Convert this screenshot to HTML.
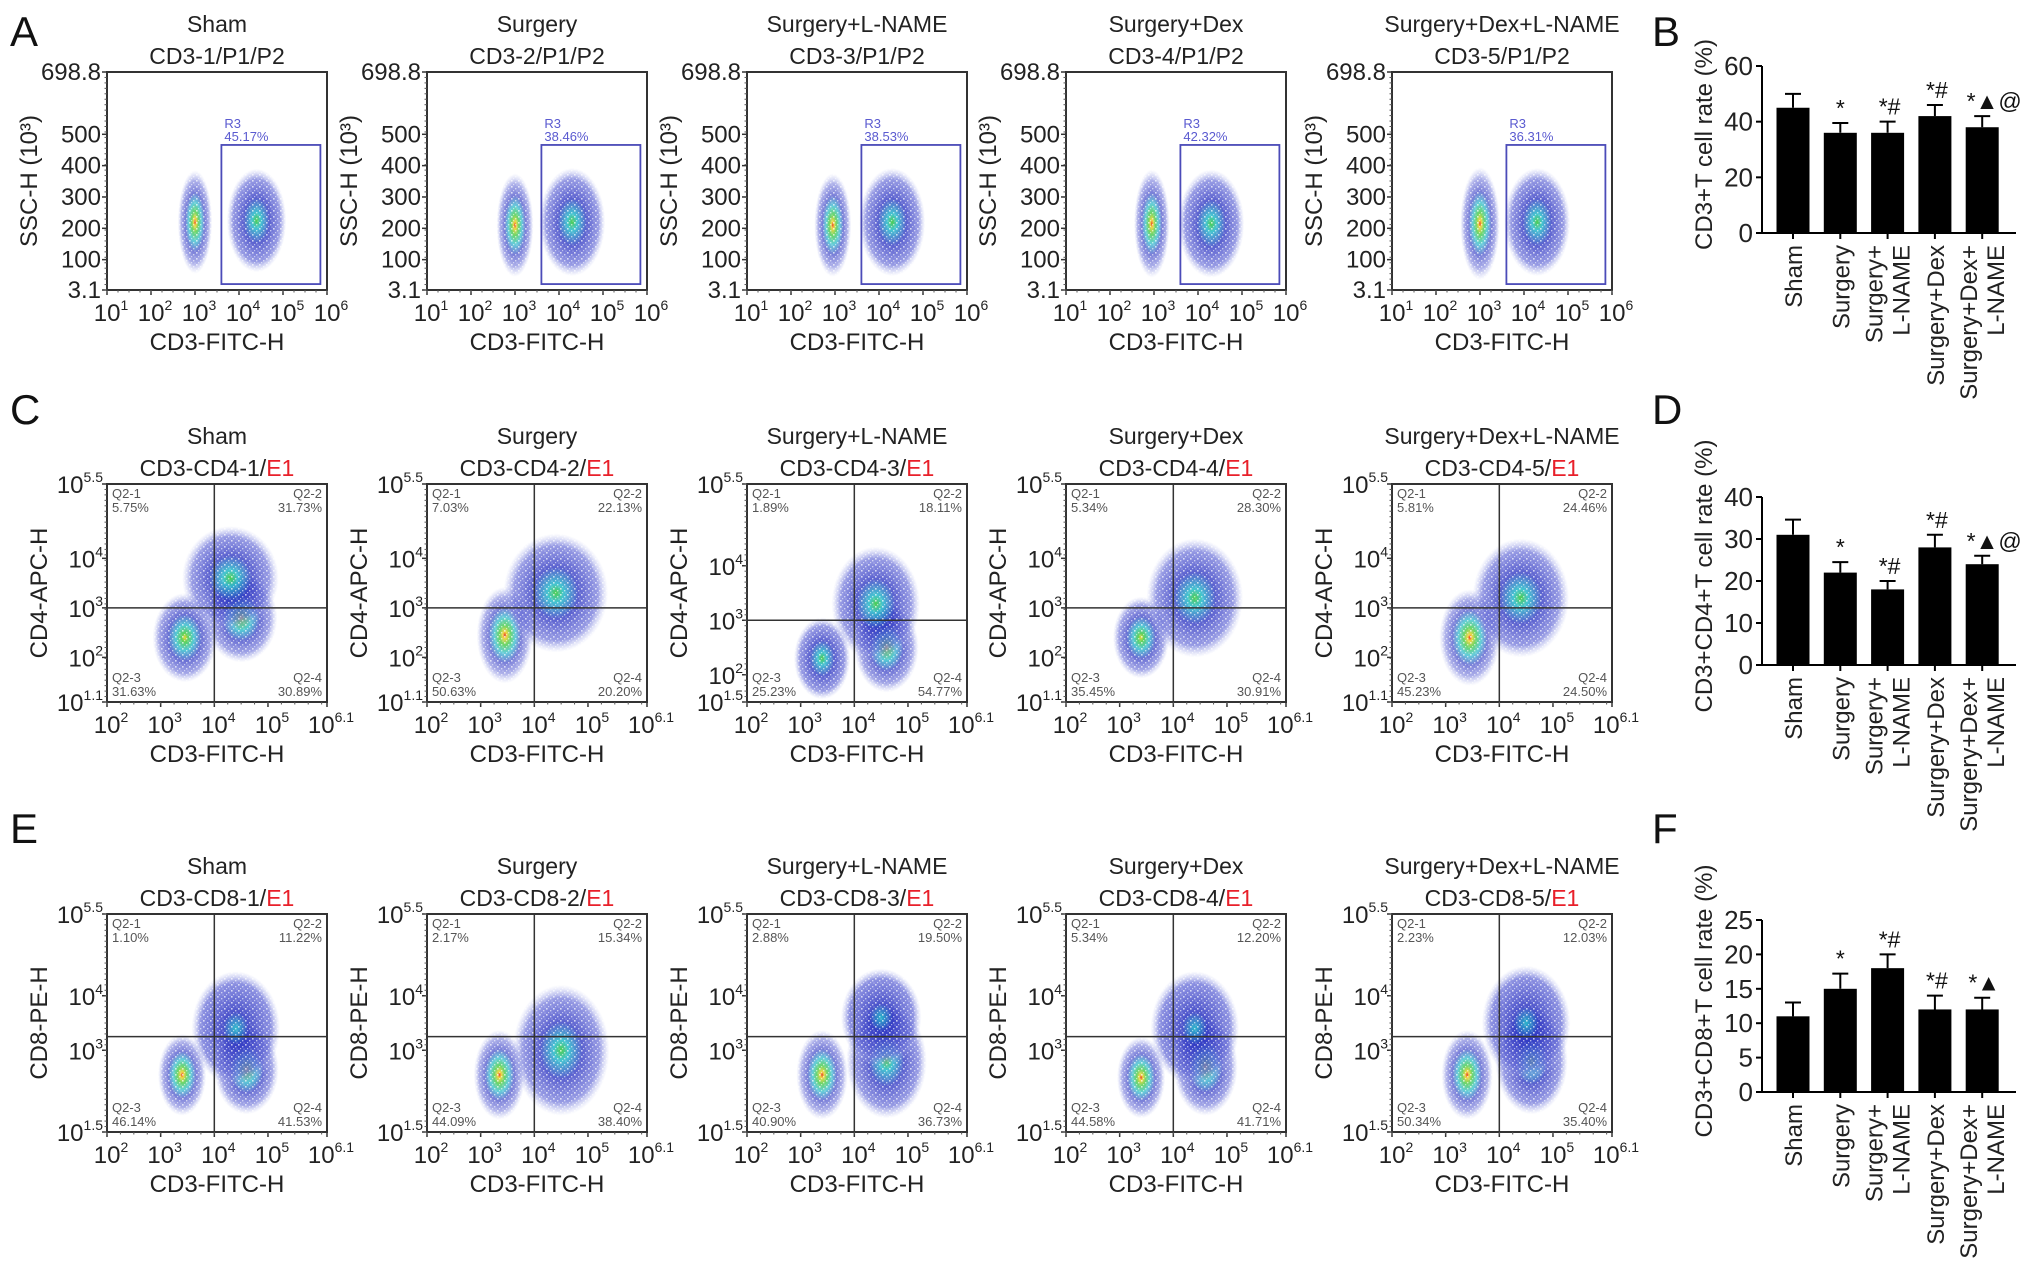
<!DOCTYPE html>
<html><head><meta charset="utf-8">
<style>
html,body{margin:0;padding:0;background:#fff;}
svg{display:block;font-family:"Liberation Sans",Arial,sans-serif;}
</style></head>
<body>
<svg id="fig" width="2032" height="1274" viewBox="0 0 2032 1274" xmlns="http://www.w3.org/2000/svg">
<defs id="defs">
<pattern id="speck" width="7" height="6" patternUnits="userSpaceOnUse">
<rect x="0" y="0" width="1.6" height="1.6" fill="#fff" opacity="0.7"/>
<rect x="4" y="2" width="1.4" height="1.4" fill="#fff" opacity="0.6"/>
<rect x="2" y="4" width="1.2" height="1.2" fill="#fff" opacity="0.55"/>
<rect x="5.5" y="4.6" width="1" height="1" fill="#fff" opacity="0.5"/>
</pattern>
</defs>
</svg>
<script>
// ---------- data ----------
const groupNames = ["Sham","Surgery","Surgery+L-NAME","Surgery+Dex","Surgery+Dex+L-NAME"];
const r3Percent = ["45.17%","38.46%","38.53%","42.32%","36.31%"];
const cd4Q1 = ["5.75%","7.03%","1.89%","5.34%","5.81%"];
const cd4Q2 = ["31.73%","22.13%","18.11%","28.30%","24.46%"];
const cd4Q3 = ["31.63%","50.63%","25.23%","35.45%","45.23%"];
const cd4Q4 = ["30.89%","20.20%","54.77%","30.91%","24.50%"];
const cd4YMin = [1.1,1.1,1.5,1.1,1.1];
const cd8Q1 = ["1.10%","2.17%","2.88%","5.34%","2.23%"];
const cd8Q2 = ["11.22%","15.34%","19.50%","12.20%","12.03%"];
const cd8Q3 = ["46.14%","44.09%","40.90%","44.58%","50.34%"];
const cd8Q4 = ["41.53%","38.40%","36.73%","41.71%","35.40%"];
// cluster data per plot: [x(log), y, sx, sy, heat]
const clustersA = [
 [[3.0,220,0.26,110,0.95],[4.4,225,0.45,110,0.6]],
 [[3.0,210,0.28,110,1.0],[4.3,220,0.5,115,0.5]],
 [[2.95,210,0.28,110,1.0],[4.3,220,0.5,115,0.55]],
 [[2.95,215,0.27,115,0.95],[4.3,215,0.5,115,0.55]],
 [[3.0,215,0.3,120,0.9],[4.3,220,0.5,115,0.5]]
];
const clustersC = [
 [[3.45,2.4,0.4,0.6,0.7],[4.5,2.8,0.45,0.6,0.65],[4.3,3.6,0.6,0.7,0.4]],
 [[3.45,2.45,0.35,0.65,1.0],[4.4,3.3,0.65,0.8,0.5]],
 [[3.4,2.3,0.35,0.5,0.6],[4.6,2.5,0.4,0.55,0.7],[4.4,3.3,0.55,0.7,0.4]],
 [[3.4,2.4,0.35,0.55,0.85],[4.4,3.2,0.6,0.8,0.55]],
 [[3.45,2.4,0.38,0.65,0.95],[4.4,3.2,0.6,0.8,0.5]]
];
const clustersE = [
 [[3.4,2.55,0.3,0.5,0.9],[4.6,2.65,0.4,0.55,0.65],[4.4,3.4,0.55,0.7,0.35]],
 [[3.35,2.55,0.32,0.55,0.95],[4.5,3.0,0.6,0.8,0.5]],
 [[3.4,2.55,0.32,0.55,0.9],[4.6,2.8,0.5,0.7,0.6],[4.5,3.6,0.5,0.6,0.35]],
 [[3.4,2.5,0.3,0.5,0.95],[4.6,2.7,0.4,0.6,0.7],[4.4,3.4,0.55,0.7,0.35]],
 [[3.4,2.55,0.32,0.55,0.95],[4.6,2.8,0.45,0.65,0.6],[4.5,3.5,0.55,0.7,0.35]]
];
// bar charts
const barCats = [["Sham"],["Surgery"],["Surgery+","L-NAME"],["Surgery+Dex"],["Surgery+Dex+","L-NAME"]];
const cd3Values = [45,36,36,42,38];
const cd3Errors = [5,3.5,4,4,4];
const cd3Marks = ["","*","*#","*#","*▲@"];
const cd3Ticks = [0,20,40,60];
const cd4Values = [31,22,18,28,24];
const cd4Errors = [3.6,2.5,2,3,2];
const cd4Marks = ["","*","*#","*#","*▲@"];
const cd4Ticks = [0,10,20,30,40];
const cd8Values = [11,15,18,12,12];
const cd8Errors = [2,2.2,2,2,1.7];
const cd8Marks = ["","*","*#","*#","*▲"];
const cd8Ticks = [0,5,10,15,20,25];

// ---------- helpers ----------
const NS="http://www.w3.org/2000/svg";
const svg=document.getElementById('fig');
const defs=document.getElementById('defs');
function mk(tag,attrs,parent){const e=document.createElementNS(NS,tag);for(const k in attrs)e.setAttribute(k,attrs[k]);(parent||svg).appendChild(e);return e;}
function txt(x,y,s,size,anchor,parent,fill){const t=mk('text',{x:x,y:y,'font-size':size,'text-anchor':anchor||'middle',fill:fill||'#222'},parent);t.textContent=s;return t;}
function pow(x,y,exp,size,anchor,parent){
  const t=mk('text',{x:x,y:y,'font-size':size,'text-anchor':anchor||'middle',fill:'#222'},parent);
  const a=document.createElementNS(NS,'tspan');a.textContent='10';t.appendChild(a);
  const b=document.createElementNS(NS,'tspan');b.setAttribute('font-size',Math.round(size*0.6));b.setAttribute('dy',-size*0.45);b.textContent=exp;t.appendChild(b);
  return t;
}
const ramp=['#e02818','#f0d020','#3cc83c','#20b8c8','#2830c0','#6a70d8'];
let gid=0;
function gradient(heat){
  const id='g'+(gid++);
  const g=mk('radialGradient',{id:id},defs);
  const s=Math.max(0,Math.min(3,Math.round((1-heat)*4)));
  const cols=ramp.slice(s);
  const n=cols.length;
  cols.forEach((c,i)=>{mk('stop',{offset:(Math.pow(i/(n-1),1.5)*0.8).toFixed(3),'stop-color':c,'stop-opacity':(0.9-i*0.07).toFixed(2)},g);});
  mk('stop',{offset:'1','stop-color':'#a8b0ec','stop-opacity':'0'},g);
  return id;
}

const plotLefts=[107,427,747,1066,1392];
const PW=220, PH=218;

function flowPlot(i,top,opt){
  const left=plotLefts[i];
  const g=mk('g',{});
  
  
  const sx=v=>left+(v-opt.xMin)/(opt.xMax-opt.xMin)*PW;
  const sy=v=>top+PH-(v-opt.yMin)/(opt.yMax-opt.yMin)*PH;
  const t1=txt(left+PW/2,top-40,groupNames[i],23,'middle',g);
  
  const t2=mk('text',{x:left+PW/2,y:top-8,'font-size':23,'text-anchor':'middle',fill:'#222'},g);
  
  const a=document.createElementNS(NS,'tspan');a.textContent=opt.sub+(i+1)+'/';t2.appendChild(a);
  const b=document.createElementNS(NS,'tspan');b.textContent=opt.tail;if(opt.tail==='E1')b.setAttribute('fill','#e8202a');t2.appendChild(b);
  const clip='c'+(gid++);
  const cp=mk('clipPath',{id:clip},defs);mk('rect',{x:left,y:top,width:PW,height:PH},cp);
  const cg=mk('g',{'clip-path':'url(#'+clip+')'},g);
  
  opt.clusters[i].forEach(c=>{
    const id=gradient(c[4]);
    const rx=Math.abs(sx(c[0]+c[2])-sx(c[0]))*1.5;
    const ry=Math.abs(sy(c[1]+c[3])-sy(c[1]))*1.5;
    const e=mk('ellipse',{cx:sx(c[0]),cy:sy(c[1]),rx:rx,ry:ry,fill:'url(#'+id+')'},cg);
    
  });
  mk('rect',{x:left,y:top,width:PW,height:PH,fill:'url(#speck)'},cg);
  const fr=mk('rect',{x:left,y:top,width:PW,height:PH,fill:'none',stroke:'#333','stroke-width':2},g);
  
  opt.xTicks.forEach(v=>{
    mk('line',{x1:sx(v),x2:sx(v),y1:top+PH,y2:top+PH+5,stroke:'#333','stroke-width':1.5},g);
    pow(sx(v)+4,top+PH+31,String(v),24,'middle',g);
  });
  for(let v=Math.ceil(opt.xMin*4)/4;v<=opt.xMax;v+=0.25)mk('line',{x1:sx(v),x2:sx(v),y1:top+PH,y2:top+PH+2.5,stroke:'#555','stroke-width':1},g);
  const xl=txt(left+PW/2,top+PH+60,'CD3-FITC-H',24,'middle',g);
  
  opt.yTicks.forEach((v,k)=>{
    mk('line',{x1:left-5,x2:left,y1:sy(v),y2:sy(v),stroke:'#333','stroke-width':1.5},g);
    if(opt.log) pow(left-4,sy(v)+9,opt.yLabels[k],24,'end',g);
    else txt(left-6,sy(v)+8,opt.yLabels[k],24,'end',g);
  });
  for(let v=opt.yMin;v<=opt.yMax;v+=(opt.yMax-opt.yMin)/40)mk('line',{x1:left-2.5,x2:left,y1:sy(v),y2:sy(v),stroke:'#555','stroke-width':1},g);
  const yl=txt(0,0,opt.yTitle,24,'middle',g);
  yl.setAttribute('transform','translate('+(left-opt.yTitleOff)+','+(top+PH/2)+') rotate(-90)');
  
  if(opt.log){
    const qx=sx(4), qy=sy(opt.qY);
    mk('line',{x1:qx,x2:qx,y1:top,y2:top+PH,stroke:'#333','stroke-width':1.5},g);
    mk('line',{x1:left,x2:left+PW,y1:qy,y2:qy,stroke:'#333','stroke-width':1.5},g);
    const q=[[opt.q1[i],left+5,top+14,'start','Q2-1'],[opt.q2[i],left+PW-5,top+14,'end','Q2-2'],[opt.q3[i],left+5,top+PH-20,'start','Q2-3'],[opt.q4[i],left+PW-5,top+PH-20,'end','Q2-4']];
    q.forEach(d=>{
      const a1=txt(d[1],d[2],d[4],13,d[3],g,'#555');
      
      const a2=txt(d[1],d[2]+14,d[0],13,d[3],g,'#555');
      
    });
  } else {
    const gx1=sx(3.6),gx2=sx(5.85),gy1=sy(466),gy2=sy(22);
    const r=mk('rect',{x:gx1,y:gy1,width:gx2-gx1,height:gy2-gy1,fill:'none',stroke:'#4b4bb8','stroke-width':1.8},g);
    
    txt(gx1+3,gy1-17,'R3',13,'start',g,'#5a5ad0');
    const p=txt(gx1+3,gy1-4,r3Percent[i],13,'start',g,'#5a5ad0');
    
  }
}

for(let i=0;i<5;i++) flowPlot(i,72,{name:'cd3-ssc',sub:'CD3-',tail:'P1/P2',clusters:clustersA,xMin:1,xMax:6,yMin:3.1,yMax:698.8,
  xTicks:[1,2,3,4,5,6],yTicks:[3.1,100,200,300,400,500,698.8],yLabels:['3.1','100','200','300','400','500','698.8'],yTitle:'SSC-H (10³)',yTitleOff:70,log:false});
for(let i=0;i<5;i++) flowPlot(i,484,{name:'cd3-cd4',sub:'CD3-CD4-',tail:'E1',clusters:clustersC,xMin:2,xMax:6.1,yMin:cd4YMin[i],yMax:5.5,
  xTicks:[2,3,4,5,6.1],yTicks:[cd4YMin[i],2,3,4,5.5].filter(v=>v>=cd4YMin[i]).filter((v,k,a)=>a.indexOf(v)===k),yLabels:(cd4YMin[i]===1.1?['1.1','2','3','4','5.5']:['1.5','2','3','4','5.5']),
  yTitle:'CD4-APC-H',yTitleOff:60,log:true,qY:3,q1:cd4Q1,q2:cd4Q2,q3:cd4Q3,q4:cd4Q4});
for(let i=0;i<5;i++) flowPlot(i,914,{name:'cd3-cd8',sub:'CD3-CD8-',tail:'E1',clusters:clustersE,xMin:2,xMax:6.1,yMin:1.5,yMax:5.5,
  xTicks:[2,3,4,5,6.1],yTicks:[1.5,3,4,5.5],yLabels:['1.5','3','4','5.5'],
  yTitle:'CD8-PE-H',yTitleOff:60,log:true,qY:3.25,q1:cd8Q1,q2:cd8Q2,q3:cd8Q3,q4:cd8Q4});

[['A',10,46],['B',1652,46],['C',10,424],['D',1652,424],['E',10,843],['F',1652,843]].forEach(l=>{
  const t=txt(l[1],l[2],l[0],42,'start',svg,'#111');
  
});

function barChart(name,y0,yTop,maxV,values,errors,marks,ticks,title){
  const g=mk('g',{});
  
  const ax=1762, xEnd=2016, bw=33;
  const xs=k=>1793+k*47.3;
  const sy=v=>y0-(v/maxV)*(y0-yTop);
  values.forEach((v,k)=>{
    const r=mk('rect',{x:xs(k)-bw/2,y:sy(v),width:bw,height:y0-sy(v),fill:'#000'},g);
    
    const et=sy(v+errors[k]);
    const e=mk('path',{d:'M'+xs(k)+','+sy(v)+'V'+et+'M'+(xs(k)-8)+','+et+'H'+(xs(k)+8),stroke:'#000','stroke-width':2,fill:'none'},g);
    
    if(marks[k]){
      const m=txt(xs(k)+(marks[k].length>2?12:(marks[k].length>1?2:0)),et-7,marks[k],23,'middle',g,'#111');
      
    }
    const lines=barCats[k];
    lines.forEach((s,j)=>{
      const off=lines.length===1?9:(j===0?-5:22);
      const t=txt(0,0,s,24,'end',g);
      t.setAttribute('transform','translate('+(xs(k)+off)+','+(y0+12)+') rotate(-90)');
      
    });
  });
  mk('line',{x1:ax,x2:ax,y1:yTop,y2:y0,stroke:'#000','stroke-width':2},g);
  mk('line',{x1:ax-1,x2:xEnd,y1:y0,y2:y0,stroke:'#000','stroke-width':2},g);
  ticks.forEach(v=>{
    mk('line',{x1:ax-6,x2:ax,y1:sy(v),y2:sy(v),stroke:'#000','stroke-width':2},g);
    const t=txt(ax-9,sy(v)+9,String(v),26,'end',g);
    
  });
  values.forEach((v,k)=>mk('line',{x1:xs(k),x2:xs(k),y1:y0,y2:y0+6,stroke:'#000','stroke-width':2},g));
  const yt=txt(0,0,title,24,'middle',g);
  yt.setAttribute('transform','translate(1712,'+((y0+yTop)/2-5)+') rotate(-90)');
  
}
barChart('cd3-bar-chart',233,66,60,cd3Values,cd3Errors,cd3Marks,cd3Ticks,'CD3+T cell rate (%)');
barChart('cd4-bar-chart',665,497,40,cd4Values,cd4Errors,cd4Marks,cd4Ticks,'CD3+CD4+T cell rate (%)');
barChart('cd8-bar-chart',1092,920,25,cd8Values,cd8Errors,cd8Marks,cd8Ticks,'CD3+CD8+T cell rate (%)');
</script>
</body></html>
